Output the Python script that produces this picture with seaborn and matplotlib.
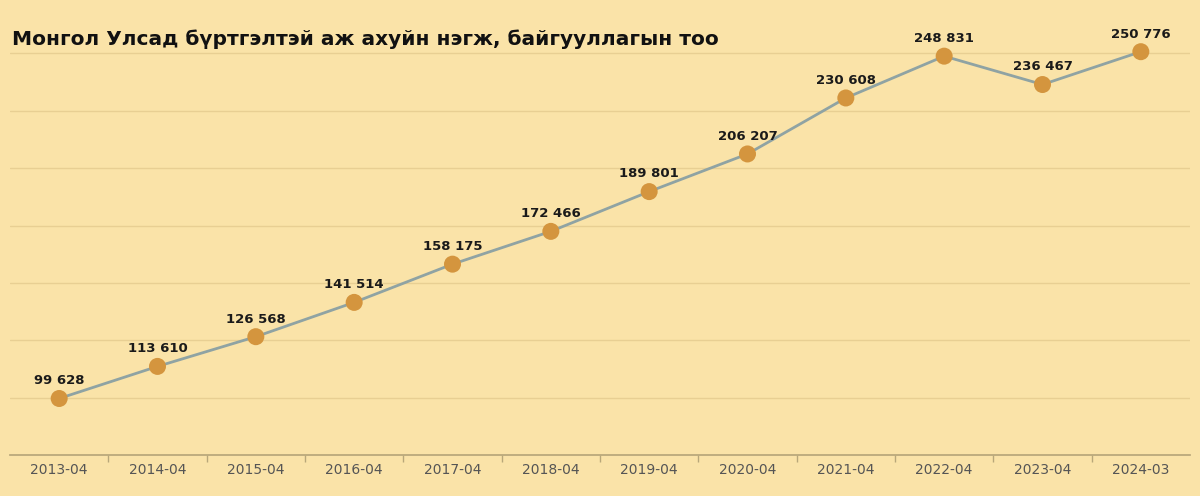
import matplotlib
matplotlib.use("Agg")
import matplotlib.pyplot as plt
import seaborn as sns
import numpy as np
import pandas as pd

periods = ['2013-04', '2014-04', '2015-04', '2016-04', '2017-04', '2018-04',
           '2019-04', '2020-04', '2021-04', '2022-04', '2023-04', '2024-03']
counts = [99628, 113610, 126568, 141514, 158175, 172466,
          189801, 206207, 230608, 248831, 236467, 250776]
title = 'Монгол Улсад бүртгэлтэй аж ахуйн нэгж, байгууллагын тоо'

bg = '#FAE3A8'
sns.set_theme(style='white')
plt.rcParams['font.family'] = ['DejaVu Sans']

df = pd.DataFrame({'x': np.arange(len(periods)), 'count': counts})

fig = plt.figure(figsize=(12, 4.96), dpi=100, facecolor=bg)
ax = fig.add_axes([10 / 1200, 41 / 496, 1180 / 1200, 452 / 496])
ax.set_facecolor(bg)

sns.lineplot(data=df, x='x', y='count', ax=ax, color='#8FA3A3', lw=2, zorder=2)
sns.scatterplot(data=df, x='x', y='count', ax=ax, color='#D4953E', s=150,
                edgecolor='none', zorder=3)

for i, v in enumerate(counts):
    ax.annotate(f'{v:,}'.replace(',', ' '), (i, v), xytext=(0, 8),
                textcoords='offset points', ha='center', va='bottom',
                fontsize=9.5, fontweight='bold', color='#1a1a1a')

ax.set_xlim(-0.5, len(periods) - 0.5)
ax.set_ylim(75000, 272000)
ax.set_yticks(np.arange(75000, 250001, 25000))
ax.set_yticklabels([])
ax.tick_params(axis='y', length=0)
ax.grid(axis='y', color='#E8CF93', lw=1)
ax.set_xticks(range(len(periods)))
ax.set_xticklabels(periods, fontsize=10, color='#555555')
ax.set_xticks(np.arange(0.5, len(periods) - 0.5), minor=True)
ax.tick_params(axis='x', which='major', length=0, pad=6)
ax.tick_params(axis='x', which='minor', length=5, color='#B8A77A', bottom=True)
for s in ['top', 'right', 'left']:
    ax.spines[s].set_visible(False)
ax.spines['bottom'].set_color('#B8A77A')
ax.set_xlabel('')
ax.set_ylabel('')

fig.text(12 / 1200, 1 - 45 / 496, title, fontsize=14.5, fontweight='bold',
         color='#111111', ha='left', va='baseline')

fig.savefig('out.png', facecolor=bg)
